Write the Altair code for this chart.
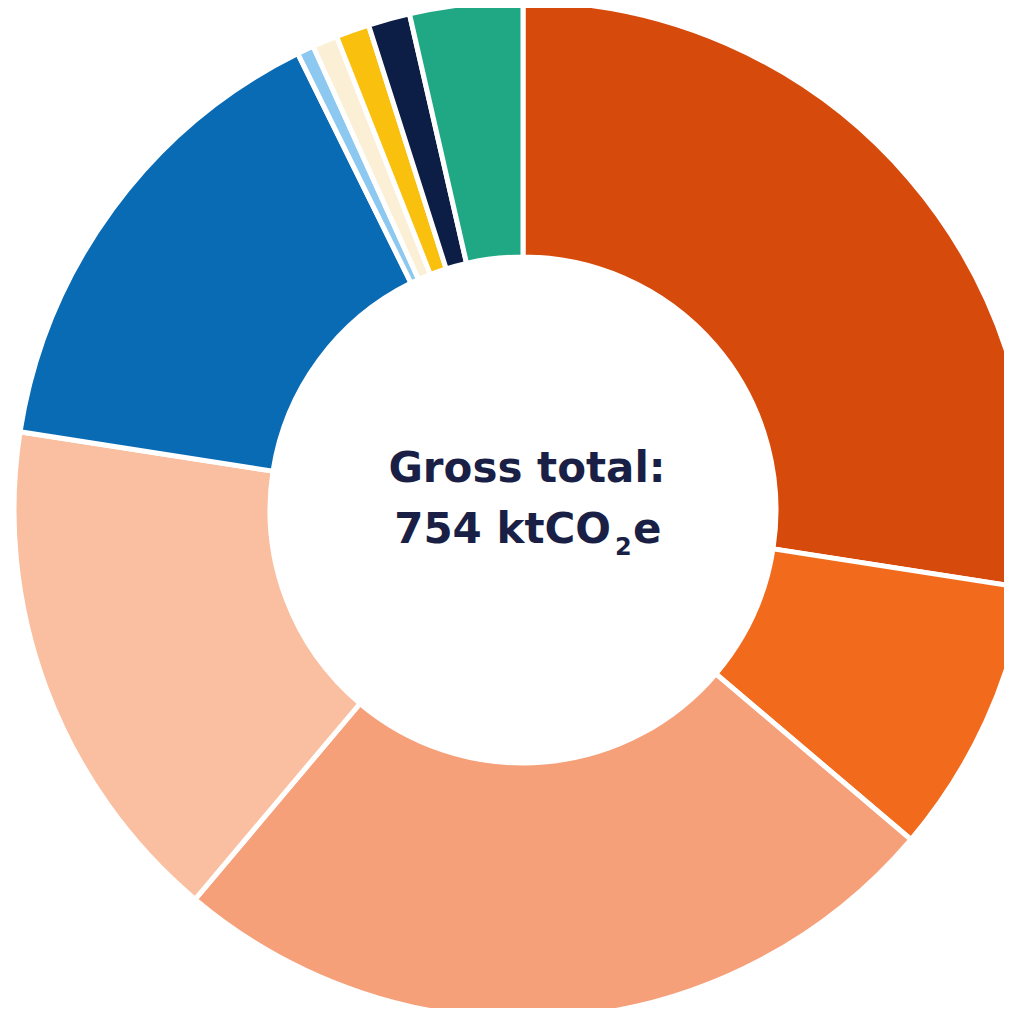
import altair as alt
import pandas as pd

categories = ["Seg A", "Seg B", "Seg C", "Seg D", "Seg E", "Seg F", "Seg G", "Seg H", "Seg I", "Seg J"]
values = [207, 66, 188, 123, 115, 4, 6, 8, 10, 27]
colors = ["#D64B0B", "#F26B1D", "#F6A07A", "#F9BFA0", "#0A6BB5", "#8CC8F0", "#FBEFD6", "#F9C00E", "#0C1E45", "#20A884"]

df = pd.DataFrame({"category": categories, "value": values, "order": list(range(len(categories)))})

W, H = 996, 1000
CX, CY = 515, 502

base = alt.Chart(df)

donut = base.mark_arc(outerRadius=509, innerRadius=253, stroke="white", strokeWidth=5).encode(
    theta=alt.Theta("value:Q", stack=True),
    order=alt.Order("order:Q"),
    color=alt.Color("category:N", scale=alt.Scale(domain=categories, range=colors), legend=None),
    x=alt.value(CX),
    y=alt.value(CY),
)

FONT = "DejaVu Sans"
TXT = "#1A1F45"
one = base.transform_aggregate(total="sum(value)")

line1 = one.mark_text(
    text="Gross total:", font=FONT, fontWeight="bold", fontSize=42, color=TXT,
    align="center", baseline="alphabetic"
).encode(x=alt.value(CX + 4), y=alt.value(CY - 28))

line2a = one.transform_calculate(
    label="format(datum.total, 'd') + ' ktCO'"
).mark_text(
    font=FONT, fontWeight="bold", fontSize=42, color=TXT,
    align="right", baseline="alphabetic"
).encode(text="label:N", x=alt.value(CX + 88), y=alt.value(CY + 33))

line2b = one.mark_text(
    text="2", font=FONT, fontWeight="bold", fontSize=24, color=TXT,
    align="left", baseline="alphabetic"
).encode(x=alt.value(CX + 92), y=alt.value(CY + 45))

line2c = one.mark_text(
    text="e", font=FONT, fontWeight="bold", fontSize=42, color=TXT,
    align="left", baseline="alphabetic"
).encode(x=alt.value(CX + 110), y=alt.value(CY + 33))

chart = alt.layer(donut, line1, line2a, line2b, line2c).properties(
    width=W, height=H, autosize=alt.AutoSizeParams(type="none"), padding=0
).configure_view(stroke=None)

chart.save("out.html", embed_options={"renderer": "svg", "actions": False})
